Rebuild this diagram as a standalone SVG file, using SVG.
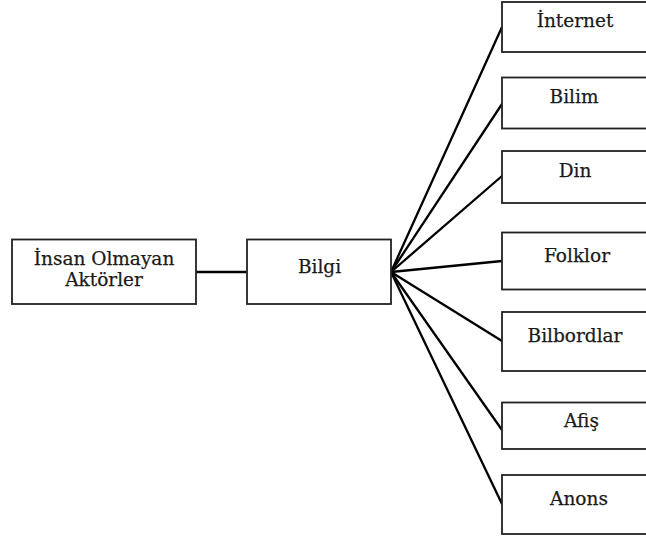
<svg xmlns="http://www.w3.org/2000/svg" width="646" height="537" viewBox="0 0 646 537">
<style>
.box{fill:#fff;stroke:#222;stroke-width:1.8}
.lbl{font-family:"DejaVu Serif","Liberation Serif",serif;font-size:18.5px;fill:#1a1a1a;stroke:#1a1a1a;stroke-width:0.25;text-anchor:middle}
.con line{stroke:#000;stroke-width:2.3}
</style>
<rect width="646" height="537" fill="#fff"/>
<g class="con" id="connectors">
<line x1="196" y1="272" x2="247" y2="272"/>
<line x1="391" y1="272" x2="502" y2="27"/>
<line x1="391" y1="272" x2="502" y2="104"/>
<line x1="391" y1="272" x2="502" y2="176"/>
<line x1="391" y1="272" x2="502" y2="261"/>
<line x1="391" y1="272" x2="502" y2="341"/>
<line x1="391" y1="272" x2="502" y2="430"/>
<line x1="391" y1="272" x2="502" y2="504"/>
</g>
<g id="n-insan"><rect class="box" x="12" y="239.5" width="184" height="64.5"/><text class="lbl" x="104" y="265">İnsan Olmayan</text><text class="lbl" x="104" y="286">Aktörler</text></g>
<g id="n-bilgi"><rect class="box" x="247" y="239.5" width="144" height="64.5"/><text class="lbl" x="319.5" y="273">Bilgi</text></g>
<g id="n-internet"><rect class="box" x="502" y="2" width="150" height="50"/><text class="lbl" x="575" y="27">İnternet</text></g>
<g id="n-bilim"><rect class="box" x="502" y="77.5" width="150" height="51"/><text class="lbl" x="574" y="103">Bilim</text></g>
<g id="n-din"><rect class="box" x="502" y="151" width="150" height="52"/><text class="lbl" x="575" y="177">Din</text></g>
<g id="n-folklor"><rect class="box" x="502" y="232.5" width="150" height="57"/><text class="lbl" x="577" y="262">Folklor</text></g>
<g id="n-bilbordlar"><rect class="box" x="502" y="312" width="150" height="59"/><text class="lbl" x="575" y="342">Bilbordlar</text></g>
<g id="n-afis"><rect class="box" x="502" y="402.5" width="150" height="46.5"/><text class="lbl" x="581.5" y="427">Afiş</text></g>
<g id="n-anons"><rect class="box" x="502" y="475" width="150" height="59"/><text class="lbl" x="579" y="505">Anons</text></g>
</svg>
